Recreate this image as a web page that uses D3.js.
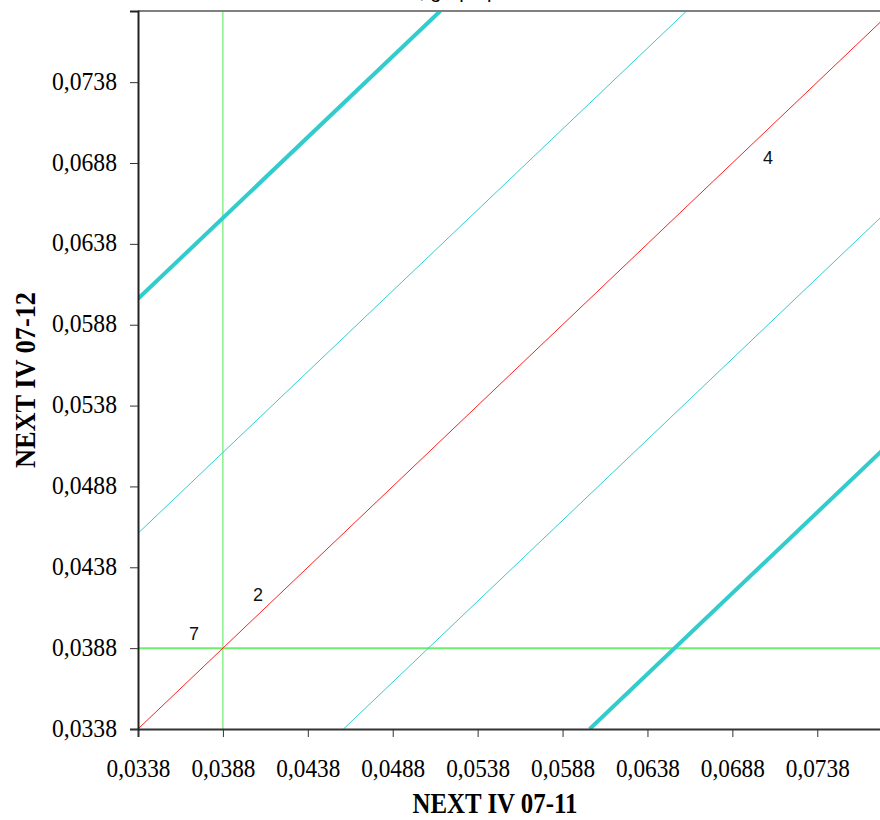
<!DOCTYPE html>
<html><head><meta charset="utf-8">
<script src="https://cdn.jsdelivr.net/npm/d3@7"></script>
<style>body{margin:0;background:#fff;}svg{display:block;}</style>
</head><body>
<svg id="c" width="880" height="820"></svg>
<script>
// ---- data ----
const xDomain = [0.0338, 0.0782];
const yDomain = [0.0338, 0.0782];
const tickValues = [0.0338, 0.0388, 0.0438, 0.0488, 0.0538, 0.0588, 0.0638, 0.0688, 0.0738];
const bandOffsets = [-0.0266, -0.0121, 0, 0.0121, 0.0266];
const bandKinds = ["thick", "thin", "center", "thin", "thick"];
const refX = 0.0388;
const refY = 0.0388;
const pointLabels = ["7", "2", "4"];
const pointX = [0.0371, 0.04087, 0.0709];
const pointY = [0.0397, 0.04214, 0.06915];
const xTitle = "NEXT IV 07-11";
const yTitle = "NEXT IV 07-12";
const chartTitle = "Volatilidad, grupo p";

// ---- layout ----
const svg = d3.select("#c");
const L = 138, T = 11, B = 729, R = 892;
const x = d3.scaleLinear().domain(xDomain).range([L, R]);
const y = d3.scaleLinear().domain(yDomain).range([B, T]);
const fmt = v => d3.format(".4f")(v).replace(".", ",");

svg.append("defs").append("clipPath").attr("id", "pc")
  .append("rect").attr("x", L).attr("y", T).attr("width", R - L).attr("height", B - T);

// title (mostly outside the view)
svg.append("text").attr("x", 328).attr("y", -2)
  .attr("font-family", "Liberation Sans, Arial, sans-serif").attr("font-size", 20)
  .attr("fill", "#000").text(chartTitle);

const plot = svg.append("g").attr("clip-path", "url(#pc)");

// green reference lines
plot.append("line").attr("x1", x(refX)).attr("x2", x(refX)).attr("y1", T).attr("y2", B)
  .attr("stroke", "#4de84d").attr("stroke-width", 1);
plot.append("line").attr("x1", L).attr("x2", R).attr("y1", y(refY)).attr("y2", y(refY))
  .attr("stroke", "#6cf06c").attr("stroke-width", 2);

// diagonal bands
const styles = {
  thick: {stroke: "#33cccc", w: 4},
  thin: {stroke: "#33cccc", w: 1},
  center: {stroke: "#ff2020", w: 1}
};
bandOffsets.forEach((o, i) => {
  const x0 = Math.max(xDomain[0], yDomain[0] - o);
  const x1 = Math.min(xDomain[1], yDomain[1] - o);
  const st = styles[bandKinds[i]];
  plot.append("line")
    .attr("x1", x(x0)).attr("y1", y(x0 + o))
    .attr("x2", x(x1)).attr("y2", y(x1 + o))
    .attr("stroke", st.stroke).attr("stroke-width", st.w);
});

// point labels
pointLabels.forEach((t, i) => {
  svg.append("text").attr("x", x(pointX[i])).attr("y", y(pointY[i]) + 6.5)
    .attr("text-anchor", "middle")
    .attr("font-family", "Liberation Sans, Arial, sans-serif").attr("font-size", 18)
    .attr("fill", "#111").text(t);
});

// frame
svg.append("line").attr("x1", L).attr("x2", 880).attr("y1", T).attr("y2", T)
  .attr("stroke", "#808080").attr("stroke-width", 2);

// axes
const serif = "Liberation Serif, Times New Roman, serif";
const xAxis = d3.axisBottom(x).tickValues(tickValues).tickSize(8).tickFormat(fmt);
const gx = svg.append("g").attr("transform", `translate(0,${B})`).call(xAxis);
gx.select(".domain").attr("stroke", "#333").attr("stroke-width", 2);
gx.selectAll(".tick line").attr("stroke", "#333").attr("stroke-width", 1);
gx.selectAll(".tick text").attr("font-family", serif).attr("font-size", 25)
  .attr("fill", "#000").attr("y", 48).attr("dy", null)
  .attr("textLength", 64).attr("lengthAdjust", "spacingAndGlyphs");

const yAxis = d3.axisLeft(y).tickValues(tickValues).tickSize(8).tickFormat(fmt);
const gy = svg.append("g").attr("transform", `translate(${L},0)`).call(yAxis);
gy.select(".domain").attr("stroke", "#222").attr("stroke-width", 2);
gy.selectAll(".tick line").attr("stroke", "#333").attr("stroke-width", 1);
gy.selectAll(".tick text").attr("font-family", serif).attr("font-size", 25)
  .attr("fill", "#000").attr("x", -21).attr("dy", null).attr("y", 7)
  .attr("textLength", 65).attr("lengthAdjust", "spacingAndGlyphs");

// axis titles
svg.append("text").attr("x", 495).attr("y", 813).attr("text-anchor", "middle")
  .attr("font-family", serif).attr("font-weight", "bold").attr("font-size", 30)
  .attr("textLength", 165).attr("lengthAdjust", "spacingAndGlyphs")
  .attr("fill", "#000").text(xTitle);
svg.append("text").attr("transform", "translate(35,380) rotate(-90)")
  .attr("text-anchor", "middle")
  .attr("font-family", serif).attr("font-weight", "bold").attr("font-size", 30)
  .attr("textLength", 176).attr("lengthAdjust", "spacingAndGlyphs")
  .attr("fill", "#000").text(yTitle);
</script>
</body></html>
